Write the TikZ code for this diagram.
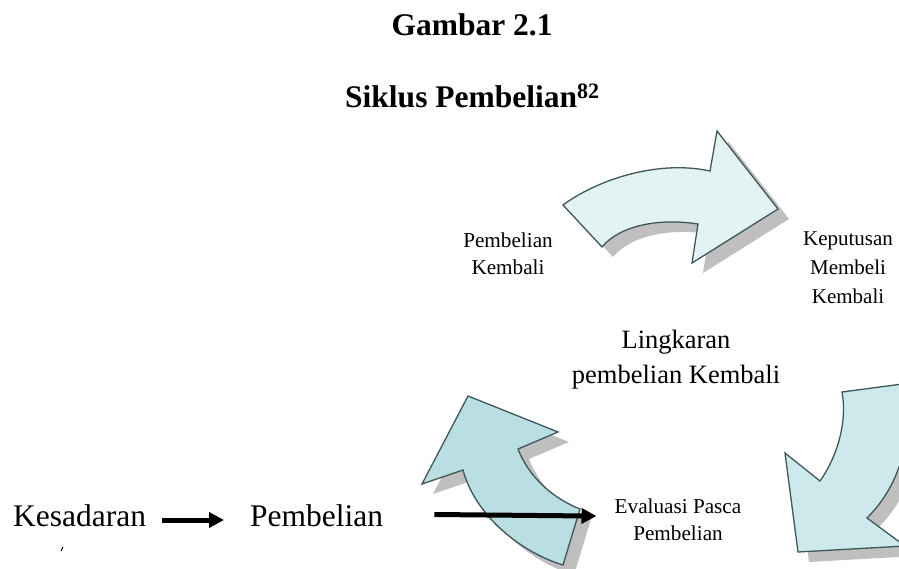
\documentclass[tikz,border=0pt]{standalone}
\usepackage{fontspec}
\setmainfont{Liberation Serif}
\usetikzlibrary{arrows.meta}
\definecolor{topfill}{HTML}{E3F3F4}
\definecolor{leftfill}{HTML}{B9DFE2}
\definecolor{rightfill}{HTML}{CDE9EC}
\definecolor{rim}{HTML}{3F5758}
\definecolor{shade}{HTML}{BFBFBF}
\tikzset{
  cycarrow/.style= {draw=rim, line width=1.3pt, line join=miter},
  arrshadow/.style= {fill=shade},
  ttl/.style= {inner sep=0pt, font=\fontsize{31.5}{38}\selectfont\bfseries},
  smalllbl/.style= {inner sep=0pt, align=center, font=\fontsize{21.2}{28}\selectfont},
  midlbl/.style= {inner sep=0pt, align=center, font=\fontsize{26.5}{35}\selectfont},
  biglbl/.style= {inner sep=0pt, text height=18pt, text depth=6pt, font=\fontsize{31.5}{38}\selectfont},
  flow/.style= {line width=5pt, -{Triangle[length=15pt,width=15pt]}},
}
\newcommand{\cyclearrow}[2]{%
  \fill[arrshadow, shift={(11,10)}] #2;
  \draw[cycarrow, fill=#1] #2;
}

\begin{document}
\begin{tikzpicture}[x=1pt, y=-1pt]
  \useasboundingbox (0,0) rectangle (899,569);
  \clip (0,0) rectangle (899,569);

  % title
  \node [ttl, anchor=base] (gbr) at (472,36) {Gambar 2.1};
  \node [ttl, anchor=base west] (sik) at (345,108) {Siklus Pembelian\textsuperscript{82}};

  % the three cycle arrows
  \cyclearrow{topfill}{(563,205) .. controls (600,178) and (660,160) .. (710,171) -- (717,131)
    -- (778,209) -- (692,263) -- (698,224) .. controls (660,218) and (620,225) .. (602,247) -- cycle}
  \cyclearrow{rightfill}{(842,392) -- (910,383) .. controls (912,450) and (895,490) .. (867,518)
    -- (905,546) -- (798,552) -- (785,453) -- (820,481) .. controls (835,460) and (848,425) .. (842,392) -- cycle}
  \cyclearrow{leftfill}{(468,396) -- (558,432) -- (518,449) .. controls (528,475) and (550,497) .. (580,509)
    -- (563,565) .. controls (520,552) and (475,515) .. (463,470) -- (422,484) -- cycle}

  % labels (base = last line)
  \node [smalllbl, anchor=base] (pk) at (508,275) {Pembelian\\Kembali};
  \node [smalllbl, anchor=base, font=\fontsize{21}{29}\selectfont] (kmk) at (848,303) {Keputusan\\Membeli\\Kembali};
  \node [midlbl, anchor=base] (lpk) at (676,383) {Lingkaran\\pembelian Kembali};
  \node [smalllbl, anchor=base, font=\fontsize{21.2}{27}\selectfont] (eval) at (678,540) {Evaluasi Pasca\\Pembelian};
  \node [biglbl, anchor=base west] (kes) at (13,526) {Kesadaran};
  \node [biglbl, anchor=base west] (pem) at (250,526) {Pembelian};

  \draw [flow, shorten <=16pt, shorten >=26pt] (kes.east) -- (pem.west);
  \draw [flow, shorten <=51pt, shorten >=18pt] ([yshift=6pt]pem.east) -- ([yshift=3pt]eval.west);

  \draw [line width=1pt] (61,551) -- (63,547);
\end{tikzpicture}
\end{document}
